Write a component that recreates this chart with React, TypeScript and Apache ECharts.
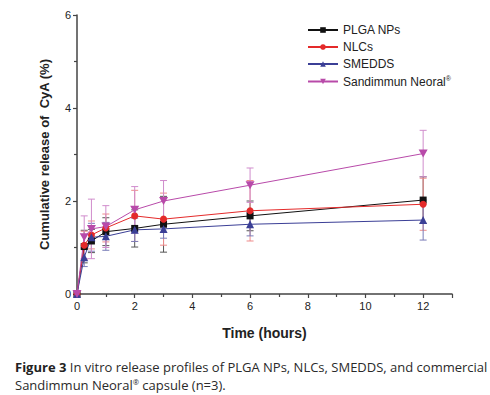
import React, { useEffect, useRef } from "react";
import * as echarts from "echarts";

const times = [0, 0.25, 0.5, 1, 2, 3, 6, 12];
const seriesNames = ["PLGA NPs", "NLCs", "SMEDDS", "Sandimmun Neoral"];
const plga = [0, 1.02, 1.14, 1.34, 1.41, 1.5, 1.68, 2.02];
const plgaErr = [0, 0.35, 0.25, 0.3, 0.4, 0.6, 0.32, 0.5];
const nlc = [0, 1.05, 1.27, 1.42, 1.68, 1.61, 1.79, 1.93];
const nlcErr = [0, 0.3, 0.3, 0.3, 0.55, 0.56, 0.65, 0.56];
const smedds = [0, 0.79, 1.22, 1.24, 1.38, 1.4, 1.5, 1.59];
const smeddsErr = [0, 0.2, 0.3, 0.3, 0.25, 0.2, 0.25, 0.43];
const neoral = [0, 1.22, 1.4, 1.45, 1.81, 2.0, 2.34, 3.02];
const neoralErr = [0, 0.46, 0.64, 0.45, 0.5, 0.44, 0.37, 0.5];

const colors = ["#111111", "#e42a2a", "#3b3f96", "#b84aa9"];
const errColors = ["#555555", "#ee8a8a", "#7a7db8", "#d08ccc"];
const symbols = ["rect", "circle", "triangle", "path://M0,0 L10,0 L5,9 Z"];

export default function App() {
  const ref = useRef<HTMLDivElement>(null);
  useEffect(() => {
    if (!ref.current) return;
    const chart = echarts.init(ref.current, undefined, { renderer: "svg" });
    const values = [plga, nlc, smedds, neoral];
    const errs = [plgaErr, nlcErr, smeddsErr, neoralErr];
    const font = "Liberation Sans, Arial, sans-serif";
    const capFont = "Open Sans, sans-serif";

    const errorSeries = values.map((vals, si) => ({
      type: "custom",
      name: seriesNames[si] + " err",
      z: 1,
      silent: true,
      data: times.map((t, i) => [t, vals[i] - errs[si][i], vals[i] + errs[si][i]]),
      renderItem: (params: any, api: any) => {
        const x = api.value(0);
        const lo = api.coord([x, api.value(1)]);
        const hi = api.coord([x, api.value(2)]);
        const w = 3.5;
        const style = { stroke: errColors[si], lineWidth: 1 };
        if (api.value(2) - api.value(1) <= 0) return { type: "group", children: [] };
        return {
          type: "group",
          children: [
            { type: "line", shape: { x1: hi[0], y1: hi[1], x2: lo[0], y2: lo[1] }, style },
            { type: "line", shape: { x1: hi[0] - w, y1: hi[1], x2: hi[0] + w, y2: hi[1] }, style },
            { type: "line", shape: { x1: lo[0] - w, y1: lo[1], x2: lo[0] + w, y2: lo[1] }, style },
          ],
        };
      },
    }));

    const lineSeries = values.map((vals, si) => ({
      type: "line",
      name: seriesNames[si],
      z: 3,
      data: times.map((t, i) => [t, vals[i]]),
      symbol: symbols[si],
      symbolSize: si === 3 ? [9, 8] : si === 2 ? 8 : 7,
      showAllSymbol: true,
      lineStyle: { color: colors[si], width: 1 },
      itemStyle: { color: colors[si] },
    }));

    chart.setOption({
      animation: false,
      backgroundColor: "#ffffff",
      grid: { left: 77, right: 38, top: 15, bottom: 101 },
      legend: {
        data: seriesNames,
        orient: "vertical",
        left: 302,
        top: 19,
        itemWidth: 30,
        itemHeight: 7,
        itemGap: 5,
        textStyle: {
          fontFamily: font,
          fontSize: 12,
          color: "#222",
          rich: {
            a: { fontFamily: font, fontSize: 12, color: "#222" },
            sup: { fontFamily: font, fontSize: 7, color: "#222", verticalAlign: "top", padding: [0, 0, 6, 0] },
          },
        },
        formatter: (name: string) => (name === "Sandimmun Neoral" ? "{a|Sandimmun Neoral}{sup|®}" : name),
      },
      xAxis: {
        type: "value",
        min: 0,
        max: 13,
        interval: 2,
        name: "Time (hours)",
        nameLocation: "middle",
        nameGap: 32,
        nameTextStyle: { fontFamily: font, fontSize: 14, fontWeight: "bold", color: "#222" },
        axisLine: { lineStyle: { color: "#444", width: 1.5 } },
        axisTick: { show: true, length: 4, lineStyle: { color: "#444", width: 1.2 } },
        minorTick: { show: true, splitNumber: 2, length: 3, lineStyle: { color: "#444", width: 1.2 } },
        axisLabel: { fontFamily: font, fontSize: 11, color: "#222", margin: 6, showMaxLabel: false },
        splitLine: { show: false },
      },
      yAxis: {
        type: "value",
        min: 0,
        max: 6,
        interval: 2,
        name: "Cumulative release of  CyA (%)",
        nameLocation: "middle",
        nameGap: 26,
        nameTextStyle: { fontFamily: font, fontSize: 13, fontWeight: "bold", color: "#222" },
        axisLine: { show: true, lineStyle: { color: "#444", width: 1.5 } },
        axisTick: { show: true, length: 4, lineStyle: { color: "#444", width: 1.2 } },
        minorTick: { show: true, splitNumber: 2, length: 3, lineStyle: { color: "#444", width: 1.2 } },
        axisLabel: { fontFamily: font, fontSize: 11, color: "#222", margin: 6 },
        splitLine: { show: false },
      },
      graphic: [
        {
          type: "text",
          left: 15,
          top: 360,
          style: {
            text: "{b|Figure 3} In vitro release profiles of PLGA NPs, NLCs, SMEDDS, and commercial",
            fontFamily: capFont,
            fontSize: 13,
            fill: "#2a2a2a",
            rich: {
              b: { fontFamily: capFont, fontSize: 13, fontWeight: "bold", fill: "#222" },
            },
          },
        },
        {
          type: "text",
          left: 15,
          top: 378,
          style: {
            text: "Sandimmun Neoral{s|®} capsule (n=3).",
            fontFamily: capFont,
            fontSize: 13,
            fill: "#2a2a2a",
            rich: { s: { fontFamily: capFont, fontSize: 7.5, fill: "#2a2a2a", verticalAlign: "top", padding: [0, 0, 5, 0] } },
          },
        },
      ],
      series: [...errorSeries, ...lineSeries],
    });
    return () => chart.dispose();
  }, []);
  return <div ref={ref} style={{ position: "fixed", left: 0, top: 0, width: 490, height: 395 }} />;
}
